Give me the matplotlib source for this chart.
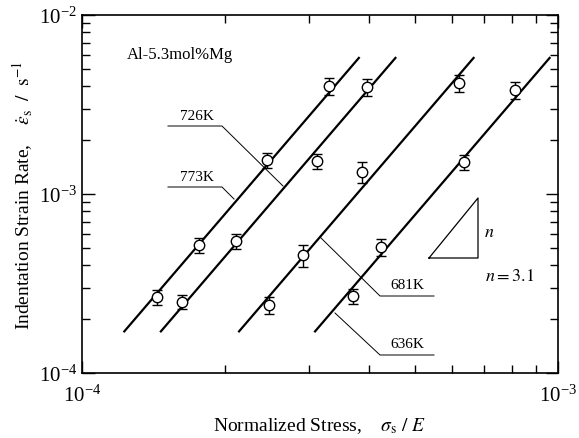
import numpy as np
import matplotlib.pyplot as plt
from matplotlib.ticker import LogLocator, NullFormatter

plt.rcParams['font.family'] = 'Liberation Serif'
plt.rcParams['mathtext.fontset'] = 'stix'

# Measured points (normalized stress, strain rate) for each temperature
x_726 = [1.44e-4, 1.76e-4, 2.45e-4, 3.30e-4]
y_726 = [2.66e-4, 5.19e-4, 1.55e-3, 4.01e-3]
e_726 = [0.10, 0.10, 0.10, 0.11]

x_773 = [1.62e-4, 2.11e-4, 3.12e-4, 3.97e-4]
y_773 = [2.49e-4, 5.46e-4, 1.53e-3, 3.96e-3]
e_773 = [0.09, 0.10, 0.10, 0.11]

x_681 = [2.47e-4, 2.91e-4, 3.87e-4, 6.19e-4]
y_681 = [2.40e-4, 4.56e-4, 1.33e-3, 4.17e-3]
e_681 = [0.11, 0.14, 0.13, 0.11]

x_636 = [3.71e-4, 4.25e-4, 6.35e-4, 8.13e-4]
y_636 = [2.69e-4, 5.06e-4, 1.51e-3, 3.81e-3]
e_636 = [0.10, 0.11, 0.10, 0.11]

# Fitted power-law lines: stress at which each line reaches 1e-3 /s
n_exp = 3.1
line_x_at_1e3 = {'726K': 2.17e-4, '773K': 2.59e-4, '681K': 3.78e-4, '636K': 5.46e-4}
line_y_lo, line_y_hi = 1.69e-4, 5.82e-3

fig = plt.figure(figsize=(5.79, 4.39), dpi=100)
ax = fig.add_axes([0.1416, 0.148, 0.8221, 0.8156])
ax.set_xscale('log')
ax.set_yscale('log')
ax.set_xlim(1e-4, 1e-3)
ax.set_ylim(1e-4, 1e-2)

# straight lines, slope n on log-log axes
for key, x0 in line_x_at_1e3.items():
    yy = np.array([line_y_lo, line_y_hi])
    xx = x0 * (yy / 1e-3) ** (1.0 / n_exp)
    ax.plot(xx, yy, color='black', lw=1.6, solid_capstyle='butt', zorder=2)

for xs, ys, es in [(x_726, y_726, e_726), (x_773, y_773, e_773),
                   (x_681, y_681, e_681), (x_636, y_636, e_636)]:
    ys = np.array(ys)
    es = np.array(es)
    ax.errorbar(xs, ys, yerr=[ys * es, ys * es], fmt='o', ms=7.5, mfc='white',
                mec='black', mew=1.0, ecolor='black', elinewidth=1.0,
                capsize=3.6, capthick=1.2, zorder=3)

# helpers: figure pixel position -> data coords
def px(x, y):
    inv = ax.transData.inverted()
    return inv.transform(fig.dpi_scale_trans.transform((x / 100.0, (439 - y) / 100.0)))

def leader(points, **kw):
    pts = np.array([px(x, y) for x, y in points])
    ax.plot(pts[:, 0], pts[:, 1], color='black', lw=0.7, zorder=1, **kw)

fig.canvas.draw()
leader([(168, 127), (222, 127), (283, 187)])
leader([(168, 188), (222, 188), (234, 200)])
leader([(320, 238), (380, 297), (434, 297)])
leader([(335, 314), (380, 356), (434, 356)])

lbl = dict(fontsize=11, ha='center', va='center')
ax.text(*px(197, 117), '726K', **lbl)
ax.text(*px(197, 178), '773K', **lbl)
ax.text(*px(407, 286), '681K', **lbl)
ax.text(*px(407, 345), '636K', **lbl)

# slope triangle
tri = np.array([px(429, 259), px(478, 199), px(478, 259), px(429, 259)])
ax.plot(tri[:, 0], tri[:, 1], color='black', lw=0.9)
ax.text(*px(489, 232), r'$n$', fontsize=13, ha='center', va='center')
ax.text(*px(510, 277), r'$n = 3.1$', fontsize=13, ha='center', va='center')

ax.text(*px(180, 55), 'Al-5.3mol%Mg', fontsize=12, ha='center', va='center')

ax.set_xlabel(r'Normalized Stress,    $\sigma_{\rm s}\ /\ E$', fontsize=14, labelpad=7)
ax.set_ylabel(r'Indentation Strain Rate,    $\dot{\varepsilon}_{\rm s}\ \ /\ \ {\rm s}^{-1}$',
              fontsize=14, labelpad=3)

ax.xaxis.set_minor_locator(LogLocator(base=10, subs=np.arange(2, 10)))
ax.yaxis.set_minor_locator(LogLocator(base=10, subs=np.arange(2, 10)))
ax.xaxis.set_minor_formatter(NullFormatter())
ax.yaxis.set_minor_formatter(NullFormatter())
ax.tick_params(which='both', direction='in', top=True, right=True, labelsize=15, width=1.0)
ax.tick_params(which='major', length=9)
ax.tick_params(which='minor', length=6)
ax.tick_params(axis='x', pad=8)
for s in ax.spines.values():
    s.set_linewidth(1.2)

fig.savefig('out.png', dpi=100)
